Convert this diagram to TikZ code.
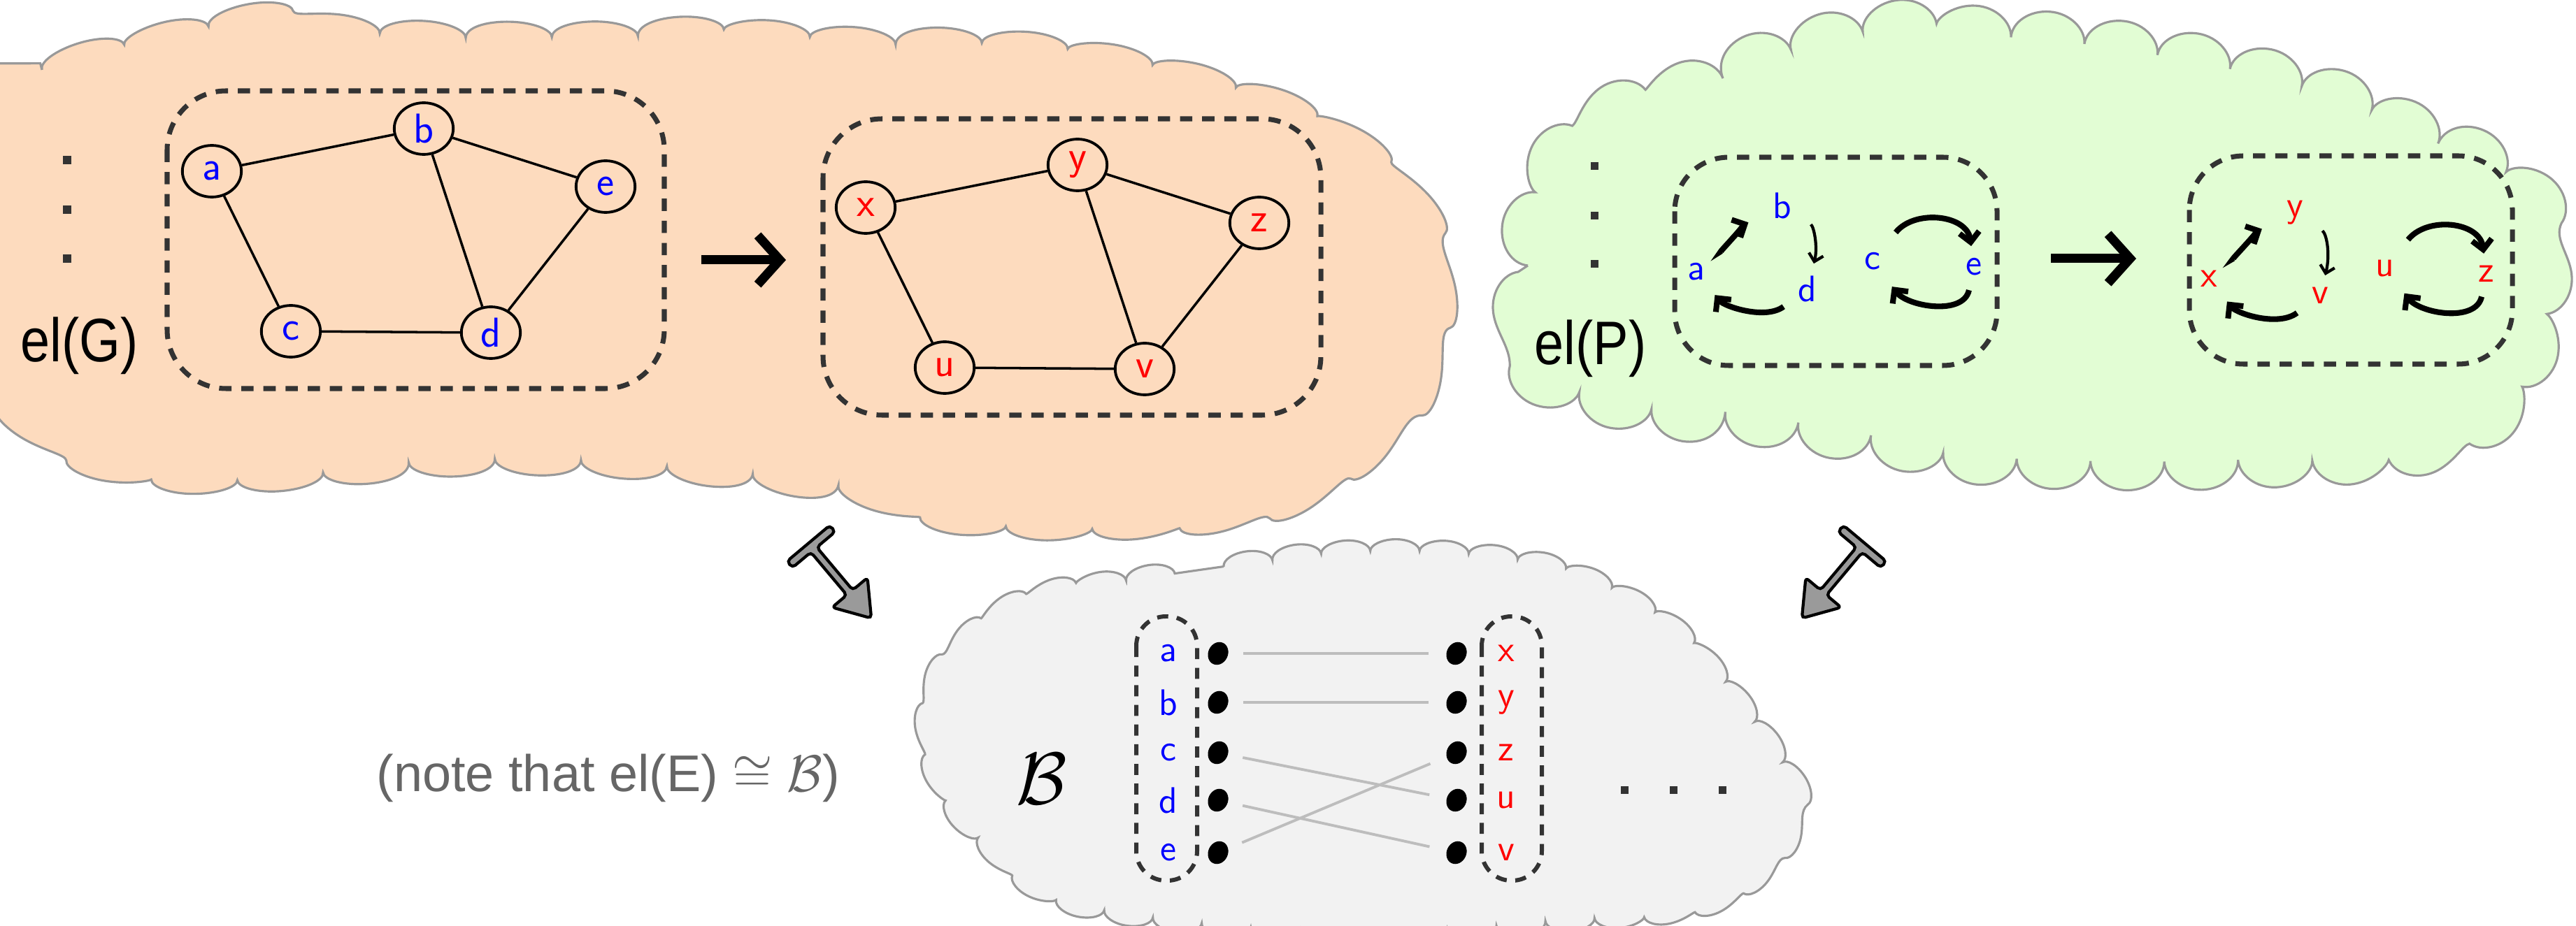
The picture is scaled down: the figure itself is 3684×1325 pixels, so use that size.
\RequirePackage{fix-cm}
\documentclass[tikz,border=0pt]{standalone}
\usepackage{fontspec}
\usepackage{amsmath}
\usetikzlibrary{shapes.geometric,arrows.meta,decorations.pathmorphing}
\newfontfamily\elfont{Liberation Sans}[FakeStretch=0.86]
\newfontfamily\notefont{Liberation Sans}

\definecolor{peach}{HTML}{FDDBBE}
\definecolor{mint}{HTML}{E2FDD4}
\definecolor{fog}{HTML}{F2F2F2}
\definecolor{rim}{HTML}{999999}
\definecolor{ink}{HTML}{333333}
\definecolor{thread}{HTML}{BDBDBD}
\definecolor{slate}{HTML}{9A9A9A}
\definecolor{notegray}{HTML}{666666}

\tikzset{
  blob/.style={draw=rim, line width=0.9pt, decorate},
  dashbox/.style={draw=ink, line width=2pt, dash pattern=on 5pt off 4pt, rounded corners=24pt},
  pill/.style={draw=ink, line width=1.7pt, dash pattern=on 4.5pt off 3.5pt, rounded corners=12pt},
  gvert/.style={ellipse, draw, line width=1.1pt, minimum width=24pt, minimum height=21pt, inner sep=0pt, font=\sffamily\fontsize{17}{17}\selectfont},
  lbl/.style={inner sep=0pt, outer sep=2pt, font=\sffamily\fontsize{15}{15}\selectfont},
  gedge/.style={line width=1pt},
  cyc/.style={line width=2.3pt, -{Straight Barb[length=4pt,width=8pt]}},
  cycthin/.style={line width=1.2pt, -{Straight Barb[length=3pt,width=6pt]}},
  bigarrow/.style={line width=3.7pt, -{Straight Barb[length=9pt,width=20pt]}},
  match/.style={draw=thread, line width=1.1pt, shorten <=6pt, shorten >=7pt},
  blackdot/.style={ellipse, fill=black, minimum width=9.5pt, minimum height=8pt, inner sep=0pt, rotate=65},
  fatarrow/.style={fill=slate, draw=black, line width=1.2pt, rounded corners=1.5pt},
}

\begin{document}
\begin{tikzpicture}[x=0.01cm, y=-0.01cm]
\useasboundingbox (0,0) rectangle (3684,1325);

% the three clouds
\draw[blob, fill=peach, decoration={bumps, segment length=70pt, amplitude=6pt}]
  plot[smooth cycle, tension=0.6] coordinates {(-120,160) (60,100) (200,62) (350,32) (550,48) (800,52) (1000,46) (1200,58) (1420,64) (1600,88) (1780,134) (1900,186) (1985,250) (2040,335) (2050,430) (2035,530) (1985,610) (1895,685) (1775,730) (1600,750) (1400,745) (1250,710) (1100,685) (900,665) (700,660) (500,673) (330,685) (180,670) (90,635) (40,585) (-120,560) (-170,360)};
\draw[blob, fill=mint, decoration={bumps, segment length=60pt, amplitude=12pt}]
  plot[smooth cycle, tension=0.6] coordinates {(2182,480) (2185,380) (2200,300) (2235,230) (2295,177) (2405,133) (2525,88) (2685,48) (2850,53) (3000,68) (3150,93) (3295,128) (3420,177) (3535,228) (3612,290) (3632,380) (3622,470) (3595,545) (3528,608) (3415,642) (3250,655) (3050,659) (2850,652) (2700,627) (2550,602) (2400,587) (2275,560) (2200,528)};
\draw[blob, fill=fog, decoration={bumps, segment length=40pt, amplitude=5pt}]
  plot[smooth cycle, tension=0.6] coordinates {(1600,833) (1750,811) (1900,793) (2050,791) (2200,808) (2297,843) (2375,888) (2435,943) (2485,1003) (2525,1058) (2560,1115) (2563,1165) (2535,1222) (2485,1270) (2400,1300) (2250,1315) (2050,1330) (1850,1330) (1650,1312) (1523,1286) (1445,1236) (1380,1172) (1340,1100) (1330,1020) (1355,953) (1413,890) (1500,850)};

% el(G)
\foreach \y in {229,300,370}
  \fill[ink] (90,\y-6) rectangle +(12,12);
\node[anchor=base west, inner sep=0pt, font=\elfont\fontsize{25}{25}\selectfont] (elG) at (29,518) {el(G)};
\draw[dashbox] (239,130) rectangle (950,556);
\draw[dashbox] (1177,170) rectangle (1889,594);
\foreach \dx/\dy/\col/\p/\q/\r/\s/\t in {0/0/blue/a/b/c/d/e, 935/52/red/x/y/u/v/z} {
  \begin{scope}[shift={(\dx,\dy)}]
    \node[gvert, text=\col] (\p) at (303,245) {\p};
    \node[gvert, text=\col] (\q) at (606,184) {\q};
    \node[gvert, text=\col] (\t) at (866,267) {\t};
    \node[gvert, text=\col] (\r) at (416,474) {\r};
    \node[gvert, text=\col] (\s) at (702,476) {\s};
    \draw[gedge] (\p) -- (\q) -- (\t) -- (\s) -- (\r) -- (\p) (\q) -- (\s);
  \end{scope}
}
\coordinate (g1) at (1003,372);
\coordinate (g2) at (1124,372);
\draw[bigarrow] (g1) -- (g2);

% el(P)
\foreach \y in {237,308,377}
  \fill[ink] (2275,\y-5) rectangle +(11,11);
\node[anchor=base west, inner sep=0pt, font=\elfont\fontsize{25}{25}\selectfont] (elP) at (2194,522) {el(P)};
\draw[dashbox, rounded corners=22pt] (2395,225) rectangle (2856,523);
\draw[dashbox, rounded corners=22pt] (3131,223) rectangle (3593,521);
\foreach \dx/\dy/\col/\p/\q/\r/\s/\t in {0/0/blue/a/b/c/d/e, 733/10/red/x/y/u/v/z} {
  \begin{scope}[shift={(\dx,\dy)}]
    \node[lbl, text=\col] (g\p) at (2426,389) {\p};
    \node[lbl, text=\col] (g\q) at (2549,294) {\q};
    \node[lbl, text=\col] (g\s) at (2585,413) {\s};
    \node[lbl, text=\col] (g\r) at (2678,374) {\r};
    \node[lbl, text=\col] (g\t) at (2823,382) {\t};
    \draw[cyc, shorten <=6pt, shorten >=9pt] (g\p) .. controls +(30,-25) and +(-50,25) .. (g\q);
    \draw[cycthin, shorten <=7pt, shorten >=3pt] (g\q) .. controls +(45,30) and +(15,-60) .. (g\s);
    \draw[cyc, shorten <=5pt, shorten >=5pt] (g\s) .. controls +(-60,45) and +(40,50) .. (g\p);
    \draw[cyc, shorten <=8pt, shorten >=3pt] (g\r) .. controls +(60,-75) and +(-10,-75) .. (g\t);
    \draw[cyc, shorten <=4pt, shorten >=6pt] (g\t) .. controls +(-15,70) and +(50,65) .. (g\r);
  \end{scope}
}
\coordinate (p1) at (2933,370);
\coordinate (p2) at (3055,370);
\draw[bigarrow] (p1) -- (p2);

% B
\node[anchor=base west, inner sep=0pt, font=\fontsize{30}{30}\selectfont] (bigB) at (1453,1150) {$\mathcal{B}$};
\draw[pill] (1625,882) rectangle (1712,1260);
\draw[pill] (2119,882) rectangle (2205,1260);
\foreach \p/\q/\y in {a/x/935, b/y/1005, c/z/1077, d/u/1145, e/v/1220} {
  \node[lbl, text=blue] (l\p) at (1671,\y) {\p};
  \node[lbl, text=red] (r\q) at (2154,\y) {\q};
  \node[blackdot] (dl\p) at (1742,\y) {};
  \node[blackdot] (dr\q) at (2083,\y) {};
}
\foreach \p/\q in {a/x, b/y, c/u, d/v, e/z}
  \draw[match] (dl\p) -- (dr\q);
\foreach \x in {2323,2393,2463}
  \fill[ink] (\x-5,1125) rectangle +(11,11);

\node[anchor=base west, inner sep=0pt, text=notegray, font=\notefont\fontsize{21}{21}\selectfont] (note) at (538,1132) {(note that el(E) $\cong$ $\mathcal{B}$)};

% maps down to B
\begin{scope}[shift={(1160,782)}, rotate=-50]
  \draw[fatarrow] (-6,-40) -- (6,-40) -- (6,-5.5) -- (86,-5.5) -- (86,-33) -- (134,0) -- (86,33) -- (86,5.5) -- (6,5.5) -- (6,40) -- (-6,40) -- cycle;
\end{scope}
\begin{scope}[shift={(2663,782)}, rotate=-130]
  \draw[fatarrow] (-6,-40) -- (6,-40) -- (6,-5.5) -- (86,-5.5) -- (86,-33) -- (134,0) -- (86,33) -- (86,5.5) -- (6,5.5) -- (6,40) -- (-6,40) -- cycle;
\end{scope}
\end{tikzpicture}
\end{document}
